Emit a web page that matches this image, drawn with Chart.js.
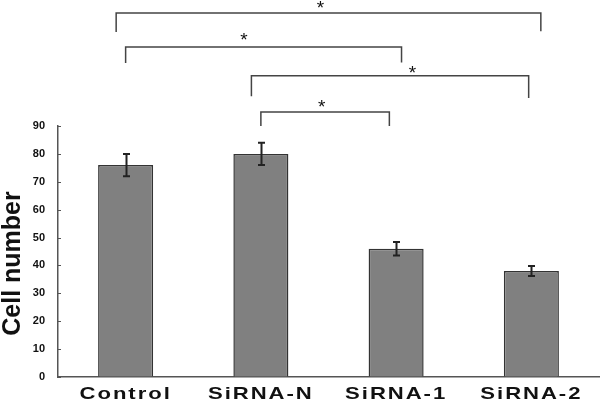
<!DOCTYPE html>
<html>
<head>
<meta charset="utf-8">
<script src="https://cdn.jsdelivr.net/npm/chart.js@4.4.1/dist/chart.umd.min.js"></script>
<style>
  html, body { margin: 0; padding: 0; background: #fff; }
  #wrap { width: 600px; height: 401px; position: relative; }
</style>
</head>
<body>
<div id="wrap"><canvas id="cellChart"></canvas></div>
<script>
// data
const categories = ["Control", "SiRNA-N", "SiRNA-1", "SiRNA-2"];
const cellNumber = [76, 80, 46, 38];
const cellError = [4, 4, 2.4, 1.8];
const yMin = 0, yMax = 90, yStep = 10;

// significance brackets (x in category units, y in axis units)
const bracketFrom = [-0.07, 0.0, 0.93, 1.0];
const bracketTo = [3.07, 2.04, 2.98, 1.95];
const bracketTop = [130.5, 118.3, 108, 95];
const bracketLegLeft = [123.7, 112.6, 100.7, 90];
const bracketLegRight = [124, 112.8, 100, 90];
const starX = [1.44, 0.875, 2.12, 1.45];
const starY = [133.4, 121.9, 110.1, 97.9];
const starText = ["*", "*", "*", "*"];

// helper: category units -> pixels
function catPx(x, u) {
    const p0 = x.getPixelForValue(0);
    const p1 = x.getPixelForValue(1);
    return p0 + u * (p1 - p0);
}

const extras = {
    id: "extras",
    afterDatasetsDraw(chart) {
        const ctx = chart.ctx;
        const x = chart.scales.x;
        const y = chart.scales.y;

        // error bars
        ctx.save();
        ctx.strokeStyle = "#222";
        ctx.lineWidth = 2;
        cellNumber.forEach((v, i) => {
            const cx = Math.round(x.getPixelForValue(i)) + 0.5;
            const top = y.getPixelForValue(v + cellError[i]);
            const bot = y.getPixelForValue(v - cellError[i]);
            ctx.beginPath();
            ctx.moveTo(cx, top);
            ctx.lineTo(cx, bot);
            ctx.moveTo(cx - 3.5, top);
            ctx.lineTo(cx + 3.5, top);
            ctx.moveTo(cx - 3.5, bot);
            ctx.lineTo(cx + 3.5, bot);
            ctx.stroke();
        });
        ctx.restore();
    },
    afterDraw(chart) {
        const ctx = chart.ctx;
        const x = chart.scales.x;
        const y = chart.scales.y;
        const area = chart.chartArea;

        // small inside ticks on the y axis
        ctx.save();
        ctx.strokeStyle = "#555";
        ctx.lineWidth = 1;
        for (let v = yMin; v <= yMax; v += yStep) {
            const py = Math.round(y.getPixelForValue(v)) + 0.5;
            ctx.beginPath();
            ctx.moveTo(area.left, py);
            ctx.lineTo(area.left + 3, py);
            ctx.stroke();
        }
        ctx.restore();

        // brackets
        ctx.save();
        ctx.strokeStyle = "#444";
        ctx.lineWidth = 1.5;
        bracketFrom.forEach((f, i) => {
            const xl = catPx(x, f);
            const xr = catPx(x, bracketTo[i]);
            const yt = y.getPixelForValue(bracketTop[i]);
            ctx.beginPath();
            ctx.moveTo(xl, y.getPixelForValue(bracketLegLeft[i]));
            ctx.lineTo(xl, yt);
            ctx.lineTo(xr, yt);
            ctx.lineTo(xr, y.getPixelForValue(bracketLegRight[i]));
            ctx.stroke();
        });
        ctx.restore();

        // stars
        ctx.save();
        ctx.fillStyle = "#111";
        ctx.font = "19px 'Liberation Sans', Arial, sans-serif";
        ctx.textAlign = "center";
        ctx.textBaseline = "alphabetic";
        starText.forEach((s, i) => {
            ctx.fillText(s, catPx(x, starX[i]), y.getPixelForValue(starY[i]) + 9);
        });
        ctx.restore();

        // x category labels, wide bold
        ctx.save();
        ctx.fillStyle = "#111";
        ctx.font = "bold 17px 'Liberation Sans', Arial, sans-serif";
        ctx.letterSpacing = "1.5px";
        ctx.textAlign = "center";
        ctx.textBaseline = "alphabetic";
        categories.forEach((c, i) => {
            ctx.save();
            ctx.translate(x.getPixelForValue(i), area.bottom + 22);
            ctx.scale(1.3, 1);
            ctx.fillText(c, 0, 0);
            ctx.restore();
        });
        ctx.restore();

        // y axis title
        ctx.save();
        ctx.fillStyle = "#111";
        ctx.font = "bold 25px 'Liberation Sans', Arial, sans-serif";
        ctx.textAlign = "center";
        ctx.textBaseline = "middle";
        ctx.translate(13, (area.top + area.bottom) / 2 + 12);
        ctx.rotate(-Math.PI / 2);
        ctx.fillText("Cell number", 0, 0);
        ctx.restore();
    }
};

new Chart(document.getElementById("cellChart"), {
    type: "bar",
    data: {
        labels: categories,
        datasets: [{
            label: "Cell number",
            data: cellNumber,
            backgroundColor: "#808080",
            borderColor: "#333",
            borderWidth: 1.5,
            borderSkipped: "bottom",
            barPercentage: 0.407,
            categoryPercentage: 1
        }]
    },
    options: {
        responsive: true,
        maintainAspectRatio: false,
        animation: false,
        layout: { padding: { top: 126, right: 1, left: 0, bottom: 0 } },
        plugins: { legend: { display: false }, tooltip: { enabled: false } },
        scales: {
            x: {
                grid: { display: false },
                border: { display: true, color: "#555", width: 1.5 },
                ticks: { display: false },
                afterFit(scale) { scale.height = 24; }
            },
            y: {
                min: yMin,
                max: yMax,
                grid: { display: true, drawOnChartArea: false, drawTicks: false },
                border: { display: true, color: "#555", width: 1.5 },
                ticks: {
                    stepSize: yStep,
                    padding: 13,
                    color: "#111",
                    font: { family: "'Liberation Sans', Arial, sans-serif", size: 11, weight: "bold" }
                },
                afterFit(scale) { scale.width = 58; }
            }
        }
    },
    plugins: [extras]
});
</script>
</body>
</html>
